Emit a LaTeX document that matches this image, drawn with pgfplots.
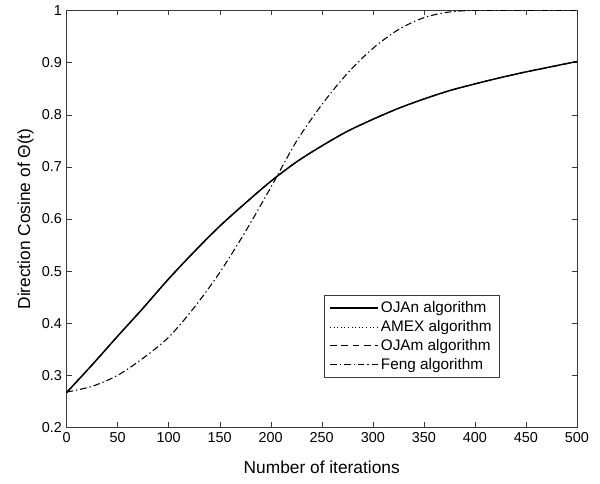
\documentclass[border=0pt]{standalone}
\usepackage{fontspec}
\setmainfont{Liberation Sans}
\usepackage{pgfplots}
\usepackage{pgfplotstable}
\pgfplotsset{compat=1.18}
\definecolor{axgray}{HTML}{3A3A3A}

% direction cosine, OJAn / AMEX / OJAm (curves coincide)
\pgfplotstableread{
it   val
0    0.267
25   0.320
50   0.375
75   0.429
100  0.485
125  0.537
150  0.586
175  0.630
200  0.672
225  0.709
250  0.740
275  0.768
300  0.791
325  0.812
350  0.830
375  0.846
400  0.859
425  0.871
450  0.882
475  0.892
500  0.902
}\ojan

% Feng algorithm
\pgfplotstableread{
it   val
0    0.268
25   0.279
50   0.300
75   0.333
100  0.373
125  0.430
150  0.497
175  0.575
200  0.660
225  0.748
250  0.819
275  0.879
300  0.927
325  0.963
350  0.986
375  0.997
400  1.000
425  1.000
450  1.000
475  1.000
500  1.000
}\feng

\begin{document}
\begin{tikzpicture}
\begin{axis}[
  scale only axis,
  width=383pt, height=313pt,
  xmin=0, xmax=500, ymin=0.2, ymax=1,
  xtick distance=50, ytick distance=0.1,
  axis line style={axgray},
  tick style={axgray},
  major tick length=3.8pt,
  tick label style={font=\fontsize{10.8}{12}\selectfont},
  /pgf/number format/assume math mode=true,
  yticklabel style={/pgf/number format/.cd, fixed, precision=1},
  xlabel={Number of iterations},
  ylabel={Direction Cosine of Θ(t)},
  label style={font=\fontsize{13}{15}\selectfont},
  xlabel style={at={(axis description cs:0.5,-0.096)}, anchor=center},
  ylabel style={at={(axis description cs:-0.080,0.5)}, anchor=center},
  legend style={at={(axis description cs:0.504,0.12)}, anchor=south west,
    font=\fontsize{11.5}{13}\selectfont, draw=axgray, row sep=0.3pt,
    inner xsep=4pt, inner ysep=2.5pt},
  legend cell align=left,
  legend image code/.code={\draw[#1] (0cm,0cm) -- (1.25cm,0cm);},
]
\addplot[black, line width=1.1pt, smooth] table[x=it,y=val] {\ojan};
\addlegendentry{OJAn algorithm}
\addplot[black, line width=0.7pt, dotted, smooth] table[x=it,y=val] {\ojan};
\addlegendentry{AMEX algorithm}
\addplot[black, line width=0.8pt, dash pattern=on 5pt off 3.5pt, smooth] table[x=it,y=val] {\ojan};
\addlegendentry{OJAm algorithm}
\addplot[black, line width=0.8pt, dash pattern=on 5pt off 2.2pt on 1pt off 2.2pt, smooth] table[x=it,y=val] {\feng};
\addlegendentry{Feng algorithm}
\end{axis}
\path[use as bounding box] (current axis.south west) ++(-49.9pt,-42pt)
  rectangle ([shift={(17.3pt,7.8pt)}]current axis.north east);
\end{tikzpicture}
\end{document}
